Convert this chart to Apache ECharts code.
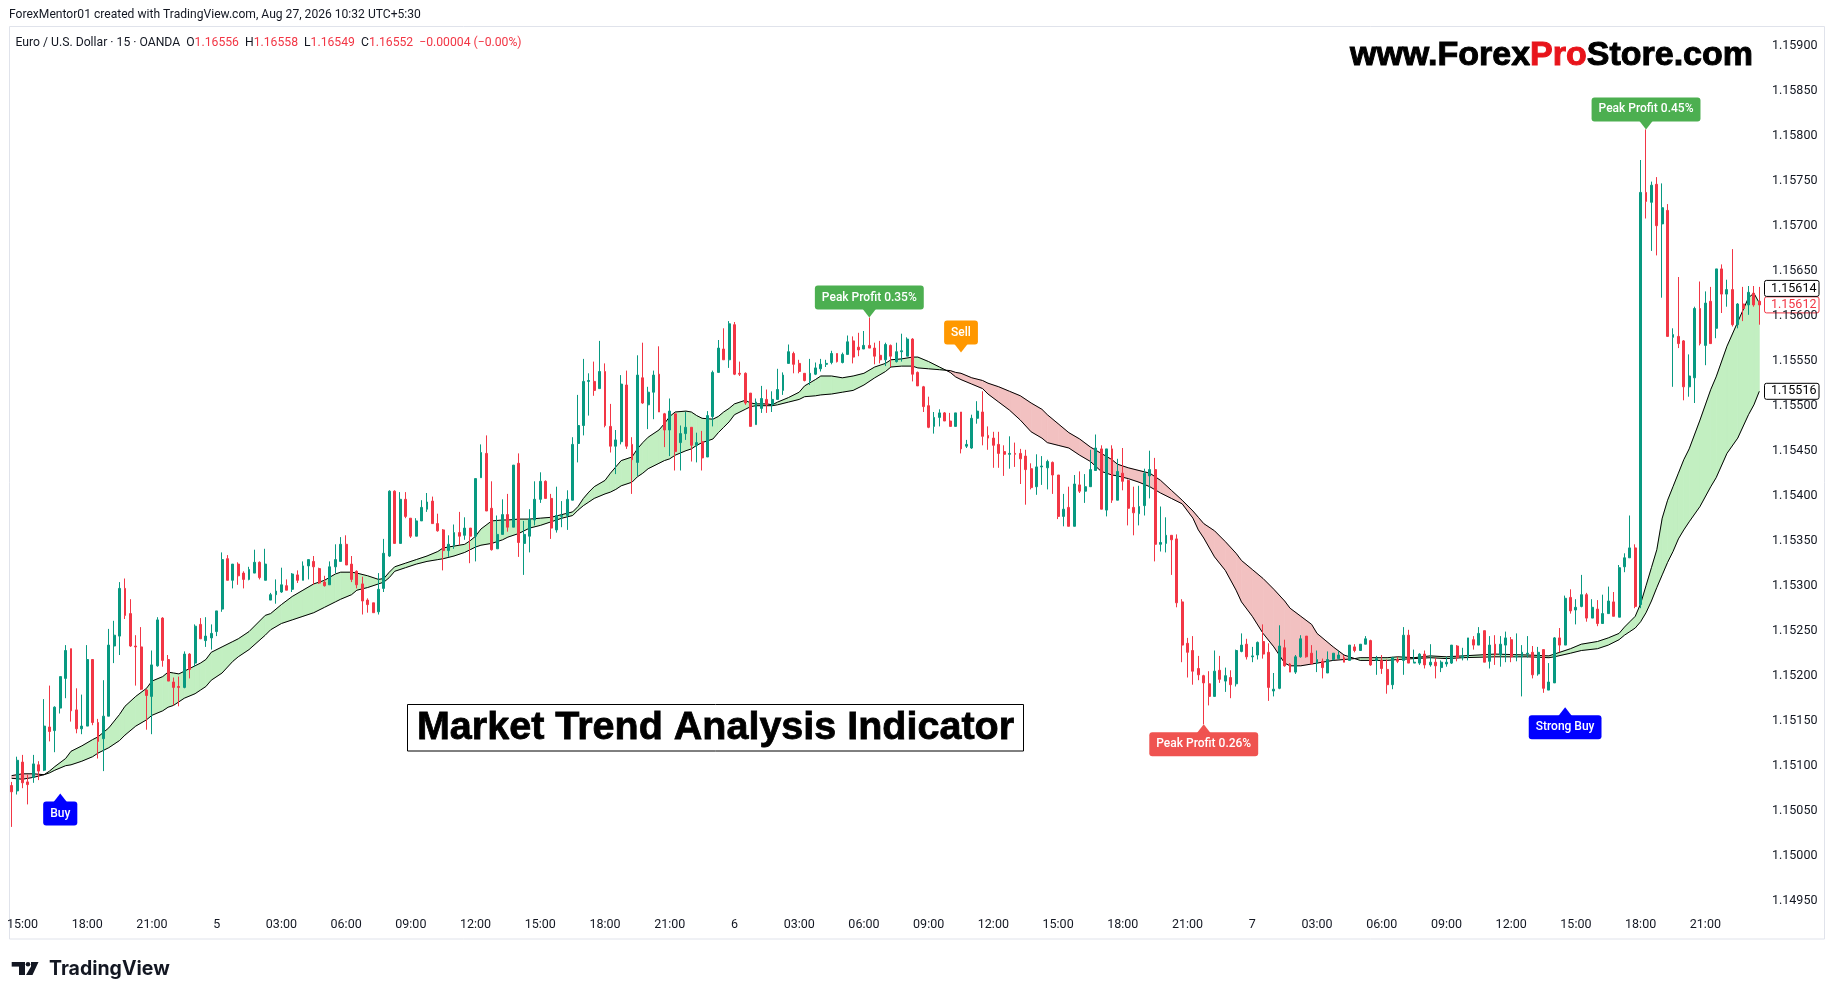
<!DOCTYPE html>
<html><head><meta charset="utf-8">
<script src="https://cdn.jsdelivr.net/npm/echarts@6/dist/echarts.min.js"></script>
<style>html,body{margin:0;padding:0;background:#fff;}#chart{width:1835px;height:1000px;}</style>
</head><body><div id="chart"></div>
<script>
// ---- candle data (15-minute bars, first bar = day 4 14:30) ----
const opens = [
1.15078,1.15072,1.15104,1.15082,1.15087,1.15101,1.15095,1.15143,1.15139,1.15164,
1.15197,1.15230,1.15162,1.15141,1.15144,1.15218,1.15148,1.15130,1.15155,1.15233,
1.15244,1.15297,1.15269,1.15233,1.15232,1.15184,1.15177,1.15211,1.15264,1.15218,
1.15193,1.15188,1.15187,1.15224,1.15214,1.15257,1.15239,1.15242,1.15249,1.15274,
1.15330,1.15306,1.15324,1.15314,1.15307,
1.15314,1.15326,1.15306,1.15284,1.15290,1.15293,1.15300,1.15296,1.15312,1.15306,
1.15322,1.15327,1.15319,1.15304,1.15301,1.15321,1.15327,1.15346,1.15324,1.15316,
1.15302,1.15284,1.15281,1.15271,1.15297,1.15333,1.15405,1.15347,1.15396,1.15375,
1.15355,1.15372,1.15385,1.15394,1.15369,1.15362,1.15339,1.15345,1.15359,1.15356,
1.15364,1.15355,1.15420,1.15447,
1.15386,1.15341,1.15357,1.15379,1.15365,1.15436,1.15347,1.15355,1.15373,1.15396,
1.15416,1.15397,1.15362,1.15377,1.15378,1.15395,1.15458,1.15478,1.15527,1.15527,
1.15519,1.15538,1.15477,1.15455,1.15460,1.15523,1.15457,1.15437,1.15531,1.15501,
1.15515,1.15535,1.15491,1.15473,1.15491,1.15459,1.15469,1.15476,1.15456,1.15460,
1.15443,1.15488,1.15537,1.15563,
1.15551,1.15590,1.15536,1.15536,1.15514,1.15479,1.15497,1.15507,1.15501,1.15507,
1.15517,1.15547,1.15558,1.15547,1.15536,1.15528,1.15535,1.15541,1.15546,1.15548,
1.15558,1.15548,1.15557,1.15572,1.15565,1.15563,1.15567,1.15564,1.15556,1.15551,
1.15567,1.15549,1.15560,1.15555,1.15574,1.15537,1.15521,1.15500,1.15477,1.15487,
1.15492,1.15483,1.15477,1.15493,1.15455,
1.15453,1.15486,1.15493,1.15467,1.15464,1.15457,1.15449,1.15446,1.15447,1.15447,
1.15444,1.15430,1.15410,1.15432,1.15431,1.15437,1.15423,1.15377,1.15387,1.15366,
1.15412,1.15405,1.15410,1.15428,1.15452,1.15384,1.15452,1.15395,1.15425,1.15417,
1.15387,1.15380,1.15389,1.15422,1.15429,1.15346,1.15347,1.15356,
1.15352,1.15282,1.15236,1.15228,1.15208,1.15200,
1.15191,1.15177,1.15206,1.15194,1.15198,1.15191,1.15227,1.15235,1.15221,1.15223,
1.15238,1.15226,1.15183,1.15186,1.15231,1.15213,1.15204,1.15221,1.15244,1.15225,
1.15214,1.15216,1.15203,1.15218,1.15219,1.15220,1.15217,1.15232,1.15228,1.15235,
1.15239,1.15217,1.15217,1.15207,1.15190,1.15218,1.15217,1.15245,1.15214,1.15214,
1.15224,1.15212,1.15215,1.15209,
1.15213,1.15214,1.15233,1.15220,1.15221,1.15240,1.15234,1.15250,1.15216,1.15235,
1.15223,1.15234,1.15240,1.15221,1.15221,1.15224,1.15226,1.15202,1.15229,1.15184,
1.15192,1.15242,1.15234,1.15287,1.15273,1.15277,1.15290,1.15264,1.15274,1.15258,
1.15269,1.15282,1.15265,1.15321,1.15331,1.15342,
1.15279,1.15737,1.15726,1.15746,1.15702,1.15717,1.15576,1.15577,1.15572,1.15521,
1.15531,1.15608,1.15567,1.15616,1.15586,1.15652,1.15624,1.15629,1.15590,1.15613,
1.15612,1.15625,1.15616
];
const highs = [
1.15082,1.15110,1.15112,1.15090,1.15112,1.15105,1.15174,1.15189,1.15166,1.15199,
1.15234,1.15230,1.15186,1.15179,1.15234,1.15218,1.15152,1.15195,1.15252,1.15261,
1.15304,1.15308,1.15285,1.15245,1.15254,1.15185,1.15228,1.15265,1.15265,1.15223,
1.15198,1.15199,1.15227,1.15225,1.15257,1.15264,1.15265,1.15257,1.15272,1.15337,
1.15334,1.15324,1.15326,1.15316,1.15321,
1.15340,1.15327,1.15341,1.15292,1.15307,1.15320,1.15307,1.15314,1.15317,1.15327,
1.15329,1.15333,1.15320,1.15311,1.15327,1.15346,1.15354,1.15356,1.15333,1.15317,
1.15310,1.15286,1.15281,1.15314,1.15352,1.15406,1.15406,1.15404,1.15404,1.15375,
1.15375,1.15395,1.15403,1.15399,1.15380,1.15363,1.15356,1.15368,1.15382,1.15376,
1.15364,1.15419,1.15457,1.15467,
1.15416,1.15378,1.15396,1.15402,1.15434,1.15447,1.15372,1.15385,1.15416,1.15426,
1.15417,1.15402,1.15410,1.15394,1.15406,1.15465,1.15512,1.15552,1.15536,1.15549,
1.15572,1.15547,1.15502,1.15473,1.15534,1.15539,1.15465,1.15556,1.15570,1.15521,
1.15539,1.15566,1.15492,1.15508,1.15491,1.15478,1.15493,1.15476,1.15470,1.15472,
1.15494,1.15539,1.15573,1.15586,
1.15594,1.15593,1.15549,1.15537,1.15514,1.15508,1.15522,1.15518,1.15516,1.15541,
1.15537,1.15568,1.15560,1.15551,1.15536,1.15552,1.15548,1.15552,1.15551,1.15561,
1.15558,1.15559,1.15578,1.15577,1.15581,1.15583,1.15598,1.15570,1.15572,1.15570,
1.15568,1.15570,1.15580,1.15576,1.15575,1.15538,1.15522,1.15510,1.15493,1.15496,
1.15493,1.15492,1.15492,1.15493,1.15462,
1.15490,1.15505,1.15516,1.15477,1.15471,1.15471,1.15456,1.15466,1.15459,1.15452,
1.15451,1.15436,1.15446,1.15444,1.15440,1.15438,1.15423,1.15402,1.15410,1.15423,
1.15427,1.15424,1.15451,1.15468,1.15456,1.15452,1.15456,1.15441,1.15453,1.15418,
1.15410,1.15411,1.15430,1.15450,1.15442,1.15388,1.15376,1.15356,
1.15357,1.15285,1.15242,1.15244,1.15222,1.15201,
1.15205,1.15228,1.15222,1.15209,1.15206,1.15229,1.15247,1.15241,1.15232,1.15238,
1.15257,1.15236,1.15203,1.15256,1.15240,1.15214,1.15223,1.15245,1.15244,1.15234,
1.15228,1.15219,1.15227,1.15225,1.15228,1.15223,1.15234,1.15235,1.15235,1.15244,
1.15240,1.15222,1.15223,1.15218,1.15221,1.15221,1.15254,1.15251,1.15229,1.15225,
1.15228,1.15235,1.15220,1.15217,
1.15221,1.15234,1.15234,1.15231,1.15242,1.15244,1.15254,1.15250,1.15244,1.15245,
1.15244,1.15249,1.15243,1.15247,1.15234,1.15244,1.15233,1.15232,1.15229,1.15214,
1.15243,1.15253,1.15289,1.15296,1.15285,1.15312,1.15292,1.15285,1.15284,1.15290,
1.15299,1.15293,1.15323,1.15336,1.15378,1.15346,
1.15773,1.15807,1.15749,1.15754,1.15747,1.15724,1.15586,1.15643,1.15573,1.15557,
1.15610,1.15638,1.15627,1.15632,1.15652,1.15657,1.15640,1.15674,1.15614,1.15632,
1.15633,1.15633,1.15632
];
const lows = [
1.15032,1.15068,1.15075,1.15057,1.15081,1.15084,1.15094,1.15127,1.15115,1.15158,
1.15175,1.15149,1.15136,1.15135,1.15144,1.15145,1.15108,1.15094,1.15155,1.15214,
1.15223,1.15263,1.15232,1.15189,1.15184,1.15140,1.15135,1.15210,1.15210,1.15194,
1.15167,1.15166,1.15186,1.15197,1.15210,1.15241,1.15232,1.15229,1.15244,1.15271,
1.15306,1.15297,1.15301,1.15297,1.15306,
1.15314,1.15307,1.15306,1.15284,1.15280,1.15292,1.15295,1.15293,1.15303,1.15306,
1.15307,1.15301,1.15302,1.15299,1.15301,1.15314,1.15327,1.15323,1.15304,1.15297,
1.15268,1.15270,1.15270,1.15268,1.15293,1.15332,1.15347,1.15347,1.15375,1.15353,
1.15355,1.15372,1.15382,1.15369,1.15360,1.15317,1.15332,1.15341,1.15345,1.15351,
1.15325,1.15327,1.15420,1.15383,
1.15339,1.15341,1.15357,1.15360,1.15365,1.15332,1.15312,1.15337,1.15367,1.15392,
1.15397,1.15352,1.15359,1.15365,1.15362,1.15395,1.15437,1.15467,1.15489,1.15511,
1.15519,1.15476,1.15448,1.15424,1.15457,1.15452,1.15402,1.15422,1.15502,1.15474,
1.15485,1.15493,1.15454,1.15444,1.15428,1.15428,1.15462,1.15438,1.15437,1.15428,
1.15443,1.15477,1.15537,1.15551,
1.15542,1.15534,1.15533,1.15501,1.15477,1.15479,1.15492,1.15492,1.15493,1.15507,
1.15512,1.15547,1.15536,1.15536,1.15527,1.15523,1.15534,1.15538,1.15543,1.15546,
1.15548,1.15547,1.15557,1.15547,1.15555,1.15563,1.15564,1.15546,1.15547,1.15544,
1.15543,1.15548,1.15549,1.15555,1.15527,1.15522,1.15493,1.15475,1.15469,1.15477,
1.15483,1.15477,1.15477,1.15447,1.15453,
1.15452,1.15480,1.15456,1.15451,1.15431,1.15431,1.15422,1.15430,1.15432,1.15413,
1.15390,1.15407,1.15401,1.15412,1.15407,1.15402,1.15374,1.15366,1.15366,1.15366,
1.15403,1.15392,1.15410,1.15428,1.15385,1.15377,1.15392,1.15395,1.15406,1.15367,
1.15356,1.15367,1.15378,1.15397,1.15327,1.15338,1.15337,1.15312,
1.15276,1.15215,1.15198,1.15190,1.15195,1.15146,
1.15167,1.15177,1.15192,1.15182,1.15175,1.15188,1.15226,1.15218,1.15215,1.15218,
1.15219,1.15172,1.15177,1.15185,1.15210,1.15204,1.15202,1.15220,1.15220,1.15213,
1.15204,1.15197,1.15203,1.15217,1.15218,1.15215,1.15217,1.15226,1.15228,1.15235,
1.15211,1.15201,1.15202,1.15180,1.15185,1.15214,1.15201,1.15214,1.15214,1.15212,
1.15208,1.15210,1.15197,1.15204,
1.15210,1.15213,1.15216,1.15217,1.15217,1.15229,1.15234,1.15215,1.15208,1.15212,
1.15210,1.15215,1.15215,1.15216,1.15177,1.15220,1.15197,1.15200,1.15181,1.15184,
1.15192,1.15226,1.15234,1.15269,1.15257,1.15276,1.15260,1.15264,1.15255,1.15258,
1.15269,1.15266,1.15265,1.15315,1.15331,1.15275,
1.15275,1.15708,1.15672,1.15667,1.15620,1.15577,1.15521,1.15564,1.15506,1.15510,
1.15503,1.15567,1.15545,1.15569,1.15575,1.15603,1.15610,1.15588,1.15586,1.15594,
1.15601,1.15610,1.15590
];
const closes = [
1.15071,1.15106,1.15081,1.15079,1.15102,1.15094,1.15144,1.15138,1.15165,1.15199,
1.15228,1.15161,1.15141,1.15144,1.15218,1.15148,1.15127,1.15155,1.15234,1.15245,
1.15297,1.15267,1.15233,1.15232,1.15185,1.15178,1.15212,1.15262,1.15217,1.15194,
1.15187,1.15187,1.15224,1.15207,1.15255,1.15241,1.15244,1.15247,1.15272,1.15329,
1.15306,1.15324,1.15311,1.15307,1.15318,
1.15326,1.15309,1.15324,1.15290,1.15294,1.15301,1.15295,1.15313,1.15306,1.15322,
1.15329,1.15321,1.15303,1.15300,1.15321,1.15329,1.15346,1.15323,1.15307,1.15301,
1.15283,1.15279,1.15270,1.15296,1.15336,1.15405,1.15347,1.15396,1.15377,1.15355,
1.15372,1.15387,1.15393,1.15369,1.15361,1.15339,1.15346,1.15359,1.15355,1.15364,
1.15355,1.15419,1.15448,1.15383,
1.15340,1.15357,1.15379,1.15365,1.15434,1.15348,1.15357,1.15374,1.15396,1.15416,
1.15397,1.15364,1.15378,1.15378,1.15396,1.15457,1.15478,1.15527,1.15528,1.15517,
1.15538,1.15478,1.15455,1.15462,1.15524,1.15455,1.15440,1.15534,1.15503,1.15515,
1.15534,1.15493,1.15473,1.15494,1.15449,1.15469,1.15476,1.15456,1.15459,1.15442,
1.15489,1.15537,1.15564,1.15551,
1.15591,1.15535,1.15535,1.15503,1.15477,1.15504,1.15508,1.15501,1.15507,1.15518,
1.15534,1.15560,1.15546,1.15538,1.15528,1.15536,1.15542,1.15546,1.15547,1.15558,
1.15549,1.15557,1.15571,1.15554,1.15562,1.15567,1.15564,1.15555,1.15551,1.15568,
1.15555,1.15560,1.15561,1.15574,1.15535,1.15522,1.15499,1.15476,1.15487,1.15492,
1.15483,1.15477,1.15492,1.15452,1.15457,
1.15486,1.15494,1.15466,1.15464,1.15456,1.15447,1.15446,1.15447,1.15446,1.15441,
1.15429,1.15409,1.15432,1.15433,1.15438,1.15423,1.15377,1.15385,1.15366,1.15413,
1.15405,1.15410,1.15429,1.15453,1.15385,1.15452,1.15395,1.15427,1.15416,1.15386,
1.15381,1.15388,1.15425,1.15429,1.15346,1.15348,1.15356,1.15351,
1.15281,1.15234,1.15226,1.15205,1.15201,1.15192,
1.15177,1.15205,1.15196,1.15200,1.15190,1.15228,1.15234,1.15221,1.15222,1.15237,
1.15224,1.15187,1.15185,1.15233,1.15211,1.15204,1.15221,1.15241,1.15221,1.15213,
1.15218,1.15209,1.15218,1.15225,1.15223,1.15215,1.15234,1.15228,1.15235,1.15241,
1.15212,1.15219,1.15208,1.15190,1.15220,1.15216,1.15245,1.15214,1.15215,1.15224,
1.15212,1.15215,1.15211,1.15215,
1.15215,1.15234,1.15220,1.15222,1.15242,1.15234,1.15247,1.15215,1.15234,1.15223,
1.15235,1.15242,1.15221,1.15222,1.15226,1.15225,1.15201,1.15226,1.15186,1.15193,
1.15242,1.15234,1.15286,1.15272,1.15276,1.15290,1.15264,1.15276,1.15258,1.15269,
1.15283,1.15266,1.15320,1.15331,1.15342,1.15277,
1.15737,1.15727,1.15745,1.15700,1.15720,1.15577,1.15579,1.15569,1.15521,1.15533,
1.15608,1.15569,1.15614,1.15569,1.15652,1.15624,1.15629,1.15590,1.15613,1.15608,
1.15626,1.15612,1.15612
];

// ---- trend band (two smoothed lines), sampled at bar indices ----
const bandIdx = [0,2,4,6,7,8,10,11,13,15,16,18,20,21,23,25,26,28,29,30,31,32,34,35,36,37,39,41,42,44,
47,48,50,52,54,56,58,60,61,63,64,66,68,69,70,71,73,75,77,79,80,82,84,85,86,87,89,91,92,94,96,98,100,102,104,105,106,107,108,110,111,112,113,115,116,117,118,120,121,122,123,125,126,127,128,130,131,132,133,
134,136,137,138,140,141,142,144,146,147,149,150,152,154,156,158,160,162,163,165,167,168,170,172,174,175,176,178,
180,181,183,185,187,189,191,192,194,196,198,200,202,204,205,207,209,211,213,215,217,219,220,221,223,225,227,228,230,232,234,236,237,239,241,242,245,247,249,250,252,255,257,260,263,266,269,275,281,285,286,289,291,294,296,298,299,300,301,302,303,304,305,306,307,308,309,310,311,313,315,316,318,320,322,323,324];
const fastLine = [1.15086,1.15085,1.15087,1.15090,1.15094,1.15099,1.15108,1.15116,1.15122,1.15129,1.15132,1.15142,1.15157,1.15166,1.15177,1.15186,1.15194,1.15199,1.15204,1.15203,1.15202,1.15205,1.15211,1.15214,1.15218,1.15226,1.15232,1.15238,1.15241,1.15249,
1.15267,1.15269,1.15279,1.15288,1.15295,1.15302,1.15306,1.15313,1.15315,1.15315,1.15314,1.15311,1.15307,1.15308,1.15315,1.15321,1.15325,1.15329,1.15333,1.15338,1.15342,1.15344,1.15346,1.15350,1.15355,1.15363,1.15372,1.15373,1.15373,1.15374,1.15374,1.15375,1.15376,1.15379,1.15382,1.15388,1.15397,1.15404,1.15410,1.15417,1.15425,1.15432,1.15439,1.15443,1.15452,1.15459,1.15465,1.15473,1.15480,1.15488,1.15493,1.15494,1.15493,1.15489,1.15486,1.15485,1.15488,1.15493,1.15497,
1.15502,1.15506,1.15503,1.15502,1.15502,1.15501,1.15504,1.15509,1.15515,1.15522,1.15529,1.15533,1.15533,1.15531,1.15533,1.15536,1.15543,1.15547,1.15551,1.15552,1.15554,1.15554,1.15549,1.15543,1.15537,1.15532,1.15529,1.15524,
1.15519,1.15513,1.15504,1.15495,1.15484,1.15471,1.15464,1.15459,1.15456,1.15453,1.15445,1.15438,1.15427,1.15423,1.15422,1.15419,1.15415,1.15410,1.15403,1.15397,1.15391,1.15375,1.15362,1.15353,1.15332,1.15317,1.15295,1.15282,1.15266,1.15247,1.15232,1.15214,1.15211,1.15211,1.15213,1.15214,1.15217,1.15218,1.15219,1.15220,1.15220,1.15220,1.15221,1.15220,1.15222,1.15221,1.15222,1.15224,1.15223,1.15222,1.15224,1.15230,1.15235,1.15238,1.15242,1.15247,1.15254,1.15260,1.15266,1.15280,1.15300,1.15320,1.15340,1.15375,1.15395,1.15410,1.15425,1.15440,1.15452,1.15484,1.15518,1.15532,1.15566,1.15593,1.15620,1.15625,1.15614];
const slowLine = [1.15089,1.15091,1.15091,1.15090,1.15092,1.15095,1.15100,1.15101,1.15105,1.15110,1.15114,1.15120,1.15128,1.15134,1.15144,1.15151,1.15156,1.15161,1.15165,1.15167,1.15171,1.15175,1.15180,1.15184,1.15188,1.15195,1.15203,1.15216,1.15221,1.15229,
1.15245,1.15251,1.15258,1.15262,1.15266,1.15270,1.15276,1.15282,1.15285,1.15290,1.15295,1.15298,1.15302,1.15304,1.15309,1.15316,1.15320,1.15324,1.15327,1.15329,1.15330,1.15333,1.15337,1.15340,1.15343,1.15345,1.15347,1.15351,1.15354,1.15358,1.15364,1.15367,1.15371,1.15375,1.15378,1.15384,1.15389,1.15393,1.15397,1.15402,1.15404,1.15407,1.15411,1.15415,1.15421,1.15425,1.15430,1.15436,1.15439,1.15441,1.15445,1.15450,1.15452,1.15456,1.15459,1.15463,1.15470,1.15476,1.15482,
1.15490,1.15496,1.15499,1.15500,1.15500,1.15500,1.15501,1.15504,1.15507,1.15510,1.15511,1.15512,1.15513,1.15515,1.15517,1.15523,1.15531,1.15538,1.15543,1.15544,1.15544,1.15542,1.15541,1.15540,1.15539,1.15537,1.15536,1.15531,
1.15528,1.15525,1.15521,1.15516,1.15511,1.15503,1.15496,1.15490,1.15480,1.15470,1.15463,1.15454,1.15447,1.15440,1.15435,1.15431,1.15428,1.15425,1.15417,1.15406,1.15395,1.15383,1.15376,1.15369,1.15361,1.15349,1.15336,1.15328,1.15318,1.15308,1.15296,1.15283,1.15275,1.15266,1.15257,1.15247,1.15232,1.15223,1.15219,1.15217,1.15217,1.15217,1.15218,1.15219,1.15220,1.15219,1.15220,1.15221,1.15221,1.15220,1.15221,1.15225,1.15228,1.15230,1.15234,1.15240,1.15245,1.15249,1.15253,1.15260,1.15270,1.15283,1.15298,1.15312,1.15326,1.15338,1.15352,1.15362,1.15371,1.15388,1.15410,1.15420,1.15447,1.15464,1.15490,1.15501,1.15516];

// ---- signal labels ----
const signalIndex = [9, 159, 176, 221, 288, 303];
const signalPrice = [1.15069, 1.15598, 1.15559, 1.15146, 1.15165, 1.15807];
const signalText  = ['Buy', 'Peak Profit 0.35%', 'Sell', 'Peak Profit 0.26%', 'Strong Buy', 'Peak Profit 0.45%'];
const signalKind  = ['buy', 'peakUp', 'sell', 'peakDown', 'buy', 'peakUp'];

// ---- axis ----
const startDay = 4, startMinute = 14 * 60 + 30, barMinutes = 15;
const yMin = 1.149, yMax = 1.1595, yStep = 0.0005;

const N = opens.length;
const categories = [];
for (let i = 0; i < N; i++) {
  const t = startMinute + barMinutes * i;
  const d = startDay + Math.floor(t / 1440);
  const m = t % 1440;
  categories.push(d + ' ' + String(Math.floor(m / 60)).padStart(2, '0') + ':' + String(m % 60).padStart(2, '0'));
}

const STY = {
  buy:      { color: '#0000ff', dir: 'up' },
  peakUp:   { color: '#4caf50', dir: 'down' },
  sell:     { color: '#ff9800', dir: 'down' },
  peakDown: { color: '#ef5350', dir: 'up' }
};
const UP = '#089981', DOWN = '#f23645', INK = '#131722';
const FONT = 'Roboto, "Liberation Sans", Arial, sans-serif';

const candleData = opens.map((o, i) => [o, closes[i], lows[i], highs[i]]);

const bandSegs = [];
for (let k = 0; k < bandIdx.length - 1; k++) {
  bandSegs.push([bandIdx[k], fastLine[k], slowLine[k], bandIdx[k + 1], fastLine[k + 1], slowLine[k + 1]]);
}

const chart = echarts.init(document.getElementById('chart'), null, { renderer: 'canvas' });

const G = '#c2efc1', R = '#f2c1c1';
const option = {
  backgroundColor: '#ffffff',
  animation: false,
  grid: { left: 9, top: 0.7, width: 1753, height: 945, containLabel: false },
  xAxis: [
    {
      type: 'category', data: categories, boundaryGap: true, offset: -27,
      axisLine: { show: false }, axisTick: { show: false }, splitLine: { show: false },
      axisLabel: {
        margin: 0, color: INK, fontSize: 12.5, fontFamily: FONT,
        interval: (idx, val) => { const hm = val.split(' ')[1]; const h = +hm.slice(0, 2); return hm.slice(3) === '00' && h % 3 === 0; },
        formatter: (val) => { const p = val.split(' '); return p[1] === '00:00' ? p[0] : p[1]; }
      }
    },
    { type: 'value', min: -0.5, max: N - 0.5, show: false, gridIndex: 0 }
  ],
  yAxis: {
    type: 'value', position: 'right', min: yMin, max: yMax, interval: yStep,
    axisLine: { show: false }, axisTick: { show: false }, splitLine: { show: false },
    axisLabel: { margin: 10, color: INK, fontSize: 12.5, fontFamily: FONT, showMinLabel: false, showMaxLabel: false,
      formatter: v => v.toFixed(5) }
  },
  series: [
    {
      type: 'custom', name: 'band', xAxisIndex: 1, yAxisIndex: 0, z: 1, silent: true,
      data: bandSegs, encode: { x: [0, 3], y: [1, 2, 4, 5] },
      renderItem: (params, api) => {
        const x0 = api.value(0), f0 = api.value(1), s0 = api.value(2);
        const x1 = api.value(3), f1 = api.value(4), s1 = api.value(5);
        const F0 = api.coord([x0, f0]), S0 = api.coord([x0, s0]);
        const F1 = api.coord([x1, f1]), S1 = api.coord([x1, s1]);
        const d0 = f0 - s0, d1 = f1 - s1;
        const poly = (pts, c) => ({ type: 'polygon', shape: { points: pts }, style: { fill: c, stroke: c, lineWidth: 0.8 } });
        if (d0 * d1 >= 0) return poly([F0, F1, S1, S0], (d0 + d1) >= 0 ? G : R);
        const t = d0 / (d0 - d1);
        const C = [F0[0] + (F1[0] - F0[0]) * t, F0[1] + (F1[1] - F0[1]) * t];
        return { type: 'group', children: [ poly([F0, C, S0], d0 > 0 ? G : R), poly([C, F1, S1], d1 > 0 ? G : R) ] };
      }
    },
    {
      type: 'line', name: 'fast', xAxisIndex: 1, yAxisIndex: 0, z: 2, silent: true, showSymbol: false,
      data: bandIdx.map((x, k) => [x, fastLine[k]]),
      lineStyle: { color: '#000', width: 1 }
    },
    {
      type: 'line', name: 'slow', xAxisIndex: 1, yAxisIndex: 0, z: 2, silent: true, showSymbol: false,
      data: bandIdx.map((x, k) => [x, slowLine[k]]),
      lineStyle: { color: '#000', width: 1 }
    },
    {
      type: 'candlestick', name: 'EURUSD', xAxisIndex: 0, yAxisIndex: 0, z: 3,
      barWidth: 2.4,
      data: candleData,
      itemStyle: { color: UP, color0: DOWN, borderColor: UP, borderColor0: DOWN, borderWidth: 1 }
    },
    {
      type: 'custom', name: 'signals', xAxisIndex: 1, yAxisIndex: 0, z: 10, silent: true,
      data: signalIndex.map((x, k) => [x, signalPrice[k]]),
      renderItem: (params, api) => {
        const k = params.dataIndex;
        const st = STY[signalKind[k]];
        const P = api.coord([api.value(0), api.value(1)]);
        const ah = 8, aw = 7;
        const up = st.dir === 'up';
        const tri = up
          ? [[P[0], P[1]], [P[0] - aw, P[1] + ah + 1], [P[0] + aw, P[1] + ah + 1]]
          : [[P[0], P[1]], [P[0] - aw, P[1] - ah - 1], [P[0] + aw, P[1] - ah - 1]];
        return { type: 'group', children: [
          { type: 'polygon', shape: { points: tri }, style: { fill: st.color } },
          { type: 'text', x: P[0], y: up ? P[1] + ah : P[1] - ah,
            style: { text: signalText[k], fill: '#ffffff', fontSize: 12, fontWeight: 500, fontFamily: FONT,
              align: 'center', verticalAlign: up ? 'top' : 'bottom',
              backgroundColor: st.color, padding: [6, 7, 6, 7], borderRadius: 3 } }
        ] };
      }
    }
  ]
};
chart.setOption(option);

// ---- overlay texts and last-value price labels ----
const yPix = v => chart.convertToPixel({ yAxisIndex: 0 }, v);
const lastClose = closes[N - 1], lastFast = fastLine[fastLine.length - 1], lastSlow = slowLine[slowLine.length - 1];
const yClose = yPix(lastClose), ySlow = yPix(lastSlow);
function priceBox(id, yc, val, color) {
  return { type: 'group', id: id, z: 50, children: [
    { type: 'rect', shape: { x: 1764.5, y: yc - 8, width: 54.5, height: 16, r: 2 }, style: { fill: '#fff', stroke: color, lineWidth: 1 } },
    { type: 'text', x: 1771, y: yc, style: { text: val.toFixed(5), fill: color, fontSize: 12.5, fontFamily: FONT, verticalAlign: 'middle' } }
  ] };
}
const HEAVY = '"Liberation Sans", Arial, sans-serif';

chart.setOption({
  graphic: [
    { type: 'rect', id: 'frame', z: -1, silent: true, shape: { x: 9.5, y: 26.5, width: 1815, height: 912.5 },
      style: { fill: 'none', stroke: '#e0e3eb', lineWidth: 1 } },
    { type: 'text', id: 'hdr1', x: 9, y: 14.5, silent: true,
      style: { text: 'ForexMentor01 created with TradingView.com, Aug 27, 2026 10:32 UTC+5:30', fill: INK, fontSize: 12.1, fontFamily: FONT, verticalAlign: 'middle' } },
    { type: 'text', id: 'hdr2', x: 15.5, y: 42.5, silent: true,
      style: { text: 'Euro / U.S. Dollar · 15 · OANDA  O{r|1.16556}  H{r|1.16558}  L{r|1.16549}  C{r|1.16552}  {r|−0.00004 (−0.00%)}',
        fill: INK, fontSize: 12.2, fontFamily: FONT, verticalAlign: 'middle',
        rich: { r: { fill: DOWN, fontSize: 12.2, fontFamily: FONT } } } },
    { type: 'text', id: 'site', x: 1753, y: 56, z: 40, silent: true,
      style: { text: 'www.Forex{p|Pro}Store.com', fill: '#000', fontSize: 34, fontWeight: 'bold', fontFamily: HEAVY,
        align: 'right', verticalAlign: 'middle', stroke: '#000', lineWidth: 1,
        rich: { p: { fill: '#e8141b', stroke: '#e8141b', lineWidth: 1, fontSize: 34, fontWeight: 'bold', fontFamily: HEAVY } } } },
    { type: 'rect', id: 'titleBox', z: 40, silent: true, shape: { x: 407.5, y: 704.5, width: 616, height: 46.5 },
      style: { fill: '#fff', stroke: '#000', lineWidth: 1 } },
    { type: 'text', id: 'title', z: 41, x: 715.5, y: 728.5, silent: true,
      style: { text: 'Market Trend Analysis Indicator', fill: '#000', fontSize: 39.5, fontWeight: 'bold',
        fontFamily: HEAVY, align: 'center', verticalAlign: 'middle', stroke: '#000', lineWidth: 0.8 } },
    { type: 'group', id: 'logo', silent: true, children: [
      { type: 'rect', shape: { x: 11.7, y: 962, width: 13.3, height: 4.6 }, style: { fill: INK } },
      { type: 'rect', shape: { x: 19, y: 962, width: 6, height: 13 }, style: { fill: INK } },
      { type: 'circle', shape: { cx: 28, cy: 964.3, r: 2.3 }, style: { fill: INK } },
      { type: 'polygon', shape: { points: [[31, 962], [38.5, 962], [32.5, 975], [26, 975], [31, 966.6], [31, 966.6]] }, style: { fill: INK } },
      { type: 'text', x: 49, y: 969, style: { text: 'TradingView', fill: INK, fontSize: 19.5, fontWeight: 700, fontFamily: 'Inter, Roboto, sans-serif', verticalAlign: 'middle' } }
    ] },
    priceBox('pbClose', yClose, lastClose, DOWN),
    priceBox('pbFast', yClose - 16.5, lastFast, '#000000'),
    priceBox('pbSlow', ySlow, lastSlow, '#000000')
  ]
});
</script>
</body></html>
